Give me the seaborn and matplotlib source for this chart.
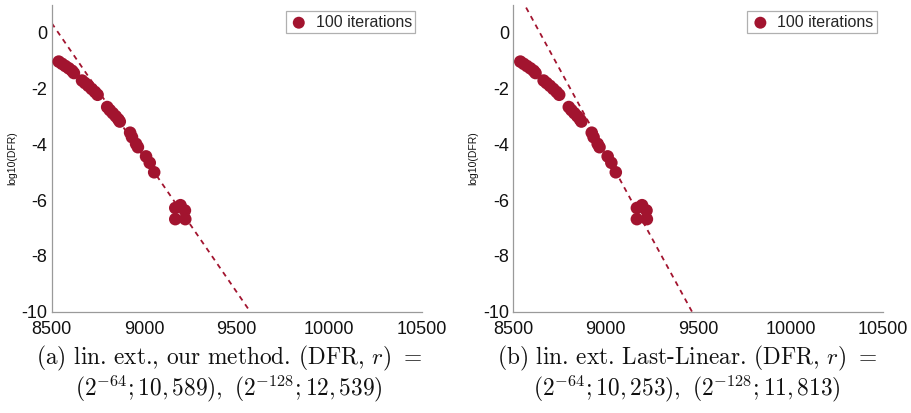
import matplotlib
matplotlib.use("Agg")
import matplotlib.pyplot as plt
import seaborn as sns
import numpy as np

# ---- data ----
iters_x = [8538, 8556, 8574, 8592, 8610, 8620, 8664, 8680, 8698, 8716, 8734, 8748,
           8800, 8814, 8830, 8846, 8860, 8868, 8924, 8934, 8956, 8966, 9010, 9030,
           9054, 9168, 9196, 9220, 9168, 9222]
log_dfr = [-1.03, -1.11, -1.19, -1.27, -1.36, -1.44, -1.71, -1.80, -1.90, -2.01, -2.12, -2.22,
           -2.66, -2.77, -2.88, -2.99, -3.10, -3.18, -3.58, -3.74, -3.98, -4.10, -4.43, -4.66,
           -5.00, -6.28, -6.18, -6.37, -6.68, -6.68]

fit_a_x = [8500, 9573]
fit_a_y = [0.35, -10.0]
fit_b_x = [8500, 9466]
fit_b_y = [1.75, -10.0]

legend_label = "100 iterations"
x_ticks = [8500, 9000, 9500, 10000, 10500]
y_ticks = [-10, -8, -6, -4, -2, 0]

caption_a = [r"(a) lin. ext., our method. (DFR, $r$) $=$",
             r"$(2^{-64}; 10,589),$ $(2^{-128}; 12,539)$"]
caption_b = [r"(b) lin. ext. Last-Linear. (DFR, $r$) $=$",
             r"$(2^{-64}; 10,253),$ $(2^{-128}; 11,813)$"]

# ---- style ----
sns.set_style("white")
plt.rcParams["font.family"] = ["Liberation Sans", "DejaVu Sans"]
plt.rcParams["axes.unicode_minus"] = False
plt.rcParams["mathtext.fontset"] = "cm"

RED = "#A2142F"
GRAY = "#9a9a9a"

fig = plt.figure(figsize=(9.11, 4.13), dpi=100)
W, H = 911, 413
ax_a = fig.add_axes([51.7 / W, 1 - 311.7 / H, 370 / W, 306.7 / H])
ax_b = fig.add_axes([513.3 / W, 1 - 311.7 / H, 370 / W, 306.7 / H])

for ax, fx, fy, cap, cx in [(ax_a, fit_a_x, fit_a_y, caption_a, 229),
                            (ax_b, fit_b_x, fit_b_y, caption_b, 687)]:
    sns.lineplot(x=fx, y=fy, ax=ax, color=RED, lw=1.3,
                 linestyle=(0, (2.8, 2.6)), legend=False, zorder=2)
    sns.scatterplot(x=iters_x, y=log_dfr, ax=ax, color=RED, s=82,
                    edgecolor="none", linewidth=0, label=legend_label, zorder=3)
    ax.set_xlim(8500, 10500)
    ax.set_ylim(-10, 1)
    ax.set_xticks(x_ticks)
    ax.set_yticks(y_ticks)
    ax.set_xticklabels([str(t) for t in x_ticks])
    ax.set_yticklabels([str(t) for t in y_ticks])
    for s in ["top", "right"]:
        ax.spines[s].set_visible(False)
    for s in ["left", "bottom"]:
        ax.spines[s].set_color(GRAY)
        ax.spines[s].set_linewidth(0.9)
    ax.tick_params(direction="in", length=3.5, width=0.8, color=GRAY,
                   labelsize=13, labelcolor="#111111", pad=3)
    ax.tick_params(axis="x", pad=7)
    ax.set_ylabel("log10(DFR)", fontsize=7.5, color="#111111")
    ax.yaxis.set_label_coords(-0.094, 0.5)
    ax.set_xlabel("")
    leg = ax.legend(loc="upper right", fontsize=11.5, frameon=True, fancybox=False,
                    framealpha=1, edgecolor="#b0b0b0", borderpad=0.22,
                    handlelength=1.2, handletextpad=0.45, borderaxespad=0.4,
                    markerscale=0.95)
    leg.get_frame().set_linewidth(0.9)
    ax.grid(False)
    ax.set_facecolor("white")

    fig.text(cx / W, 1 - 358 / H, cap[0], ha="center", va="center",
             fontsize=16.8, family="cmr10", color="#111111")
    fig.text(cx / W, 1 - 389 / H, cap[1], ha="center", va="center",
             fontsize=16.8, family="cmr10", color="#111111")

fig.savefig("out.png", dpi=100, facecolor="white")
